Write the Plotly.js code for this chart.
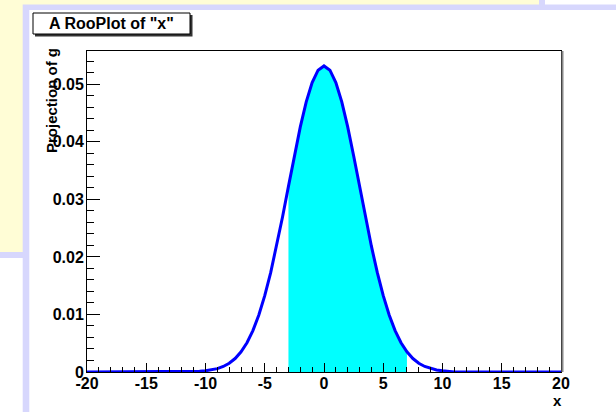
<!DOCTYPE html>
<html>
<head>
<meta charset="utf-8">
<script src="https://cdn.plot.ly/plotly-3.0.1.min.js"></script>
<style>html,body{margin:0;padding:0;background:#fff;}#chart{width:616px;height:412px;}</style>
</head>
<body>
<div id="chart"></div>
<script>
// ---- data ----
var curveX = [-20,-19,-18,-17,-16,-15,-14,-13,-12,-11,-10.5,-10,-9.5,-9,-8.5,-8,-7.5,-7,-6.5,-6,-5.5,-5,-4.5,-4,-3.5,-3,-2.5,-2,-1.5,-1,-0.5,0,0.5,1,1.5,2,2.5,3,3.5,4,4.5,5,5.5,6,6.5,7,7.5,8,8.5,9,9.5,10,10.5,11,12,13,14,15,16,17,18,19,20];
var curveY = [0,0,0,0,0,0,0,0,0,0,0.00012,0.00021,0.00035,0.00059,0.00096,0.00152,0.00234,0.00350,0.00509,0.00720,0.00991,0.01327,0.01727,0.02187,0.02694,0.03227,0.03759,0.04260,0.04695,0.05032,0.05247,0.0532,0.05247,0.05032,0.04695,0.04260,0.03759,0.03227,0.02694,0.02187,0.01727,0.01327,0.00991,0.00720,0.00509,0.00350,0.00234,0.00152,0.00096,0.00059,0.00035,0.00021,0.00012,0,0,0,0,0,0,0,0,0,0];
var shadeFrom = -3;
var shadeTo = 7;
var xTickVals = [-20,-15,-10,-5,0,5,10,15,20];
var xTickText = ["-20","-15","-10","-5","0","5","10","15","20"];
var yTickVals = [0,0.01,0.02,0.03,0.04,0.05];
var yTickText = ["0","0.01","0.02","0.03","0.04","0.05"];
var titleText = 'A RooPlot of "x"';
var yTitleText = 'Projection of g';
var xTitleText = 'x';

// ---- layout geometry ----
var W = 616, H = 412;
var M = {l: 87, r: 55, t: 51, b: 40};
var PW = W - M.l - M.r, PH = H - M.t - M.b;
function fx(px){ return (px - M.l) / PW; }
function fy(py){ return (H - M.b - py) / PH; }

var shadeX = [], shadeY = [];
for (var i = 0; i < curveX.length; i++) {
  if (curveX[i] >= shadeFrom && curveX[i] <= shadeTo) { shadeX.push(curveX[i]); shadeY.push(curveY[i]); }
}

var YEL = '#FFFDD6', LAV = '#D7D7FD';
function rect(x0,y0,x1,y1,fill,line){
  return {type:'rect', xref:'paper', yref:'paper', x0:fx(x0), x1:fx(x1), y0:fy(y1), y1:fy(y0),
          fillcolor:fill, line: line || {width:0}, layer:'below'};
}
var shapes = [
  rect(0,0,539,4.5,YEL),
  rect(0,0,22.7,252,YEL),
  rect(545,0,616,4.5,'#FFFFFF'),
  rect(0,258,22.7,412,'#FFFFFF'),
  rect(29.3,10,616,412,'#FFFFFF'),
  rect(35,15,192.5,36.5,'#333333'),
  rect(33,13,190,34,'#FFFFFF',{width:1,color:'#000000'}),
  {type:'line', xref:'paper', yref:'paper', x0:fx(562.5), x1:fx(562.5), y0:fy(372), y1:fy(51), line:{color:'#888888', width:2}, layer:'above'}
];

var traces = [
  {x: shadeX, y: shadeY, type:'scatter', mode:'lines', fill:'tozeroy', fillcolor:'#00FFFF', line:{width:0, color:'#00FFFF'}, hoverinfo:'skip'},
  {x: curveX, y: curveY, type:'scatter', mode:'lines', line:{color:'#0000FF', width:3}, hoverinfo:'skip'}
];

var tickFont = {family:'Liberation Sans, Arial, sans-serif', size:16, color:'#000', weight:700};
var layout = {
  width: W, height: H,
  margin: M,
  paper_bgcolor: LAV,
  plot_bgcolor: '#FFFFFF',
  showlegend: false,
  shapes: shapes,
  xaxis: {
    range: [-20, 20], tickmode:'array', tickvals: xTickVals, ticktext: xTickText,
    ticks:'inside', ticklen:9, tickwidth:1, tickcolor:'#000',
    minor:{dtick:1, tick0:0, ticks:'inside', ticklen:5, tickwidth:1, tickcolor:'#000', showgrid:false},
    showgrid:false, zeroline:false, showline:true, linecolor:'#000', linewidth:1, mirror:true,
    tickfont: tickFont, ticklabelstandoff: -3, fixedrange:true
  },
  yaxis: {
    range: [0, 0.0558], tickmode:'array', tickvals: yTickVals, ticktext: yTickText,
    ticks:'inside', ticklen:13, tickwidth:1, tickcolor:'#000',
    minor:{dtick:0.002, tick0:0, ticks:'inside', ticklen:7, tickwidth:1, tickcolor:'#000', showgrid:false},
    showgrid:false, zeroline:false, showline:true, linecolor:'#000', linewidth:1, mirror:true,
    tickfont: tickFont, ticklabelstandoff: -1, fixedrange:true
  },
  annotations: [
    {xref:'paper', yref:'paper', x:fx(111.5), y:fy(23.5), text:titleText, showarrow:false, xanchor:'center', yanchor:'middle',
     font:{family:'Liberation Sans, Arial, sans-serif', size:16, color:'#000', weight:700}},
    {xref:'paper', yref:'paper', x:fx(51), y:fy(101), text:yTitleText, showarrow:false, textangle:-90, xanchor:'center', yanchor:'middle',
     font:{family:'Liberation Sans, Arial, sans-serif', size:15, color:'#000', weight:700}},
    {xref:'paper', yref:'paper', x:fx(557), y:fy(401), text:xTitleText, showarrow:false, xanchor:'center', yanchor:'middle',
     font:{family:'Liberation Sans, Arial, sans-serif', size:15, color:'#000', weight:700}}
  ]
};
Plotly.newPlot('chart', traces, layout, {displayModeBar:false, staticPlot:true});
</script>
</body>
</html>
